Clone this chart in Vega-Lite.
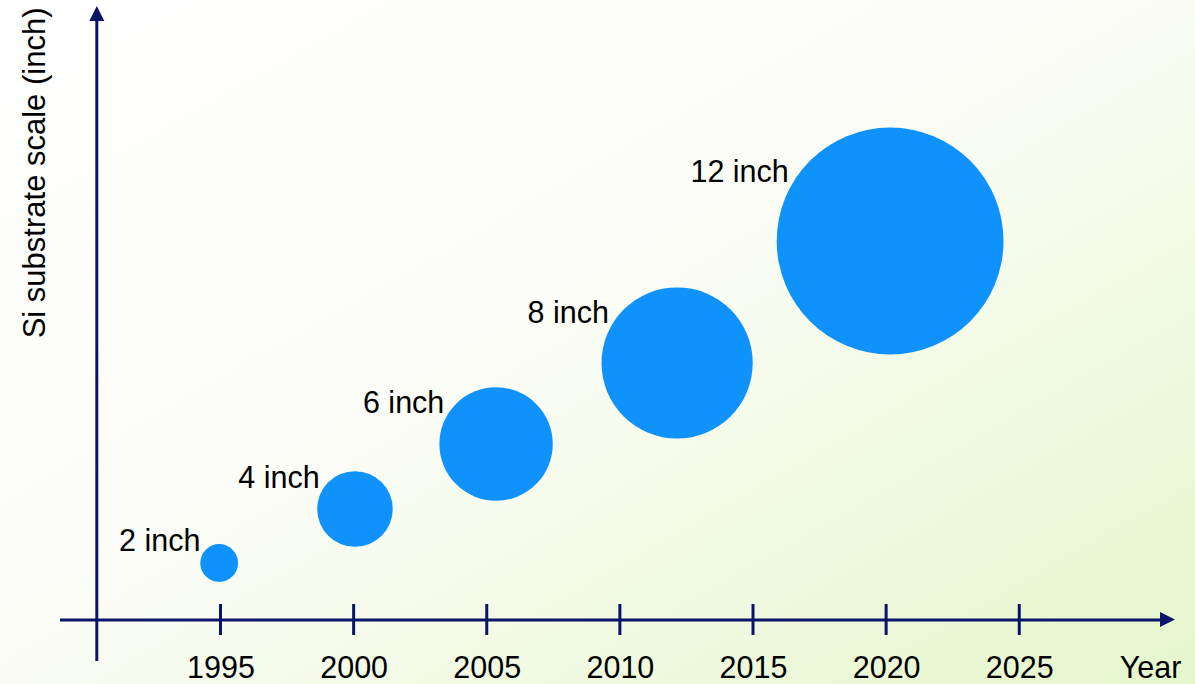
{
  "$schema": "https://vega.github.io/schema/vega-lite/v6.json",
  "width": 1195,
  "height": 684,
  "padding": 0,
  "autosize": {"type": "none"},
  "background": "#ffffff",
  "config": {
    "font": "Liberation Sans",
    "view": {
      "stroke": null,
      "fill": {
        "gradient": "linear",
        "x1": 0, "y1": 0, "x2": 1, "y2": 1,
        "stops": [
          {"offset": 0, "color": "#ffffff"},
          {"offset": 0.45, "color": "#fcfdf8"},
          {"offset": 1, "color": "#e5f6cb"}
        ]
      }
    }
  },
  "datasets": {
    "wafers": [
      {"year": 1994.95, "level": 5.7, "inch": 2, "label": "2 inch"},
      {"year": 2000.05, "level": 11.1, "inch": 4, "label": "4 inch"},
      {"year": 2005.35, "level": 17.6, "inch": 6, "label": "6 inch"},
      {"year": 2012.15, "level": 25.7, "inch": 8, "label": "8 inch"},
      {"year": 2020.15, "level": 37.9, "inch": 12, "label": "12 inch"}
    ],
    "ticks": [
      {"year": 1995}, {"year": 2000}, {"year": 2005}, {"year": 2010},
      {"year": 2015}, {"year": 2020}, {"year": 2025}
    ]
  },
  "layer": [
    {
      "data": {"name": "wafers"},
      "mark": {"type": "point", "shape": "circle", "filled": true, "opacity": 1, "color": "#0f92fb", "strokeWidth": 0},
      "encoding": {
        "x": {
          "field": "year", "type": "quantitative",
          "scale": {"domain": [1986.718, 2031.601], "nice": false, "zero": false},
          "axis": {
            "orient": "bottom", "offset": -64, "zindex": 1, "values": [1995, 2000, 2005, 2010, 2015, 2020, 2025], "format": "d",
            "domain": false, "grid": false, "ticks": true, "tickSize": 16, "tickOpacity": 0,
            "labelFont": "Liberation Sans", "labelFontSize": 30.5, "labelColor": "#000000",
            "labelBaseline": "alphabetic", "labelPadding": 41.3, "labelFlush": false, "labelOverlap": false,
            "title": "Year", "titleFont": "Liberation Sans", "titleFontSize": 30.5, "titleFontWeight": "normal",
            "titleColor": "#000000", "titleX": 1150, "titleY": 57.3, "titleAlign": "center", "titleBaseline": "alphabetic"
          }
        },
        "y": {
          "field": "level", "type": "quantitative",
          "scale": {"domain": [-6.4, 62.0], "nice": false, "zero": false},
          "axis": {
            "orient": "left", "offset": -96.8, "zindex": 1, "domain": false, "grid": false, "ticks": false, "labels": false,
            "title": "Si substrate scale (inch)", "titleFont": "Liberation Sans", "titleFontSize": 31,
            "titleFontWeight": "normal", "titleColor": "#000000", "titleX": -52.8, "titleY": 7,
            "titleAngle": -90, "titleAlign": "right", "titleBaseline": "alphabetic"
          }
        },
        "size": {
          "field": "inch", "type": "quantitative",
          "scale": {"type": "pow", "exponent": 2, "domain": [0, 12], "range": [0, 51440]},
          "legend": null
        }
      }
    },
    {
      "data": {"values": [{}]},
      "mark": {"type": "rule", "color": "#0b1468", "strokeWidth": 3},
      "encoding": {
        "x": {"datum": 1988.972, "type": "quantitative", "scale": {"domain": [1986.718, 2031.601], "nice": false, "zero": false}},
        "x2": {"datum": 2030.361},
        "y": {"datum": 0, "type": "quantitative", "scale": {"domain": [-6.4, 62.0], "nice": false, "zero": false}}
      }
    },
    {
      "data": {"values": [{}]},
      "mark": {"type": "rule", "color": "#0b1468", "strokeWidth": 3},
      "encoding": {
        "x": {"datum": 1990.354, "type": "quantitative", "scale": {"domain": [1986.718, 2031.601], "nice": false, "zero": false}},
        "y": {"datum": -4.1, "type": "quantitative", "scale": {"domain": [-6.4, 62.0], "nice": false, "zero": false}},
        "y2": {"datum": 60.0}
      }
    },
    {
      "data": {"name": "ticks"},
      "mark": {"type": "rule", "color": "#0b1468", "strokeWidth": 3},
      "encoding": {
        "x": {"field": "year", "type": "quantitative", "scale": {"domain": [1986.718, 2031.601], "nice": false, "zero": false}},
        "y": {"datum": 1.6, "type": "quantitative", "scale": {"domain": [-6.4, 62.0], "nice": false, "zero": false}},
        "y2": {"datum": -1.5}
      }
    },
    {
      "data": {"values": [{}]},
      "mark": {"type": "point", "shape": "M-1,-1L1,0L-1,1Z", "filled": true, "opacity": 1, "color": "#0b1468", "size": 225},
      "encoding": {
        "x": {"datum": 2030.568, "type": "quantitative", "scale": {"domain": [1986.718, 2031.601], "nice": false, "zero": false}},
        "y": {"datum": 0.05, "type": "quantitative", "scale": {"domain": [-6.4, 62.0], "nice": false, "zero": false}}
      }
    },
    {
      "data": {"values": [{}]},
      "mark": {"type": "point", "shape": "M-1,1L0,-1L1,1Z", "filled": true, "opacity": 1, "color": "#0b1468", "size": 225},
      "encoding": {
        "x": {"datum": 1990.354, "type": "quantitative", "scale": {"domain": [1986.718, 2031.601], "nice": false, "zero": false}},
        "y": {"datum": 60.65, "type": "quantitative", "scale": {"domain": [-6.4, 62.0], "nice": false, "zero": false}}
      }
    },
    {
      "data": {"name": "wafers"},
      "mark": {
        "type": "text", "align": "right", "baseline": "alphabetic", "font": "Liberation Sans", "fontSize": 30.5, "color": "#000000",
        "dx": {"expr": "-8.26*datum.inch - 2.2"},
        "dy": {"expr": "-4.7*datum.inch - 2.65"}
      },
      "encoding": {
        "x": {"field": "year", "type": "quantitative", "scale": {"domain": [1986.718, 2031.601], "nice": false, "zero": false}},
        "y": {"field": "level", "type": "quantitative", "scale": {"domain": [-6.4, 62.0], "nice": false, "zero": false}},
        "text": {"field": "label"}
      }
    }
  ]
}
